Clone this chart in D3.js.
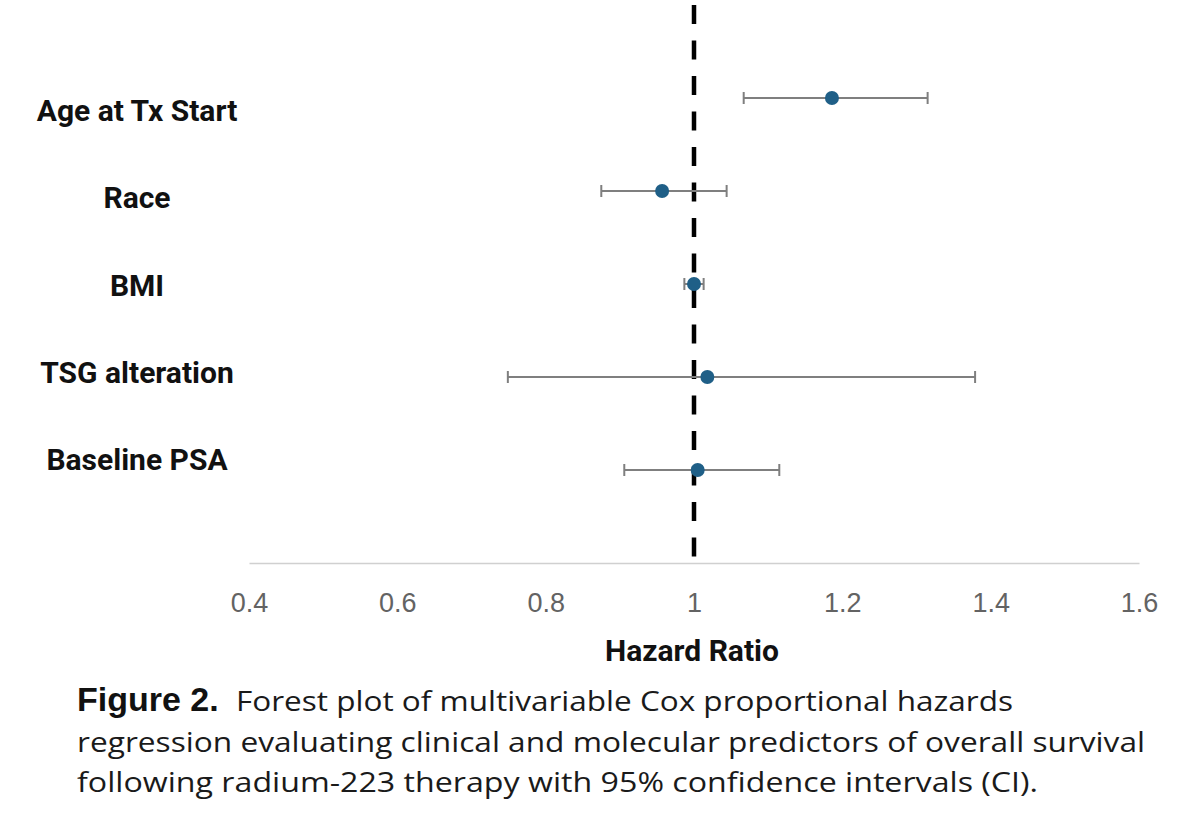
<!DOCTYPE html>
<html>
<head>
<meta charset="utf-8">
<script src="https://cdn.jsdelivr.net/npm/d3@7"></script>
<style>
  html, body { margin: 0; padding: 0; background: #ffffff; }
  svg { display: block; }
</style>
</head>
<body>
<svg id="chart" width="1200" height="828"></svg>
<script>
// ---- data ----
const categories = ["Age at Tx Start", "Race", "BMI", "TSG alteration", "Baseline PSA"];
const hazardRatio = [1.186, 0.957, 1.000, 1.018, 1.005];
const ciLower     = [1.067, 0.875, 0.987, 0.749, 0.906];
const ciUpper     = [1.315, 1.044, 1.013, 1.379, 1.115];
const xTicks = [0.4, 0.6, 0.8, 1.0, 1.2, 1.4, 1.6];
const xTickLabels = ["0.4", "0.6", "0.8", "1", "1.2", "1.4", "1.6"];
const referenceValue = 1.0;
const xAxisTitle = "Hazard Ratio";
const captionBold = "Figure 2.";
const captionLines = [
  "Forest plot of multivariable Cox proportional hazards",
  "regression evaluating clinical and molecular predictors of overall survival",
  "following radium-223 therapy with 95% confidence intervals (CI)."
];

// ---- layout ----
const svg = d3.select("#chart");
const n = categories.length;
const x = d3.scaleLinear().domain([0.4, 1.6]).range([249, 1139]);
const y = d3.scaleLinear().domain([0, n + 1]).range([563, 5]);
const yLabel = d3.scaleLinear().domain([0, n + 1]).range([557.5, 33.5]);

const rows = categories.map((c, i) => ({
  name: c, hr: hazardRatio[i], lo: ciLower[i], hi: ciUpper[i], pos: n - i
}));

// x axis
const xAxis = d3.axisBottom(x)
  .tickValues(xTicks)
  .tickFormat((d, i) => xTickLabels[i])
  .tickSize(0)
  .tickSizeOuter(0);

const gx = svg.append("g")
  .attr("transform", `translate(0,${y(0)})`)
  .call(xAxis);
gx.select(".domain").attr("stroke", "#d0d0d0").attr("stroke-width", 1.5);
gx.selectAll(".tick text")
  .attr("y", 30)
  .attr("dy", "0.71em")
  .attr("fill", "#636363")
  .style("font-family", "'Liberation Sans', Arial, sans-serif")
  .style("font-size", "27px");

// reference dashed line
svg.append("line")
  .attr("x1", x(referenceValue)).attr("x2", x(referenceValue))
  .attr("y1", y(n + 1)).attr("y2", y(0))
  .attr("stroke", "#000")
  .attr("stroke-width", 4.5)
  .attr("stroke-dasharray", "19,16.5");

// whiskers
const g = svg.append("g");
g.selectAll("line.ci")
  .data(rows).join("line")
  .attr("class", "ci")
  .attr("x1", d => x(d.lo)).attr("x2", d => x(d.hi))
  .attr("y1", d => y(d.pos)).attr("y2", d => y(d.pos))
  .attr("stroke", "#7f7f7f").attr("stroke-width", 2);

["lo", "hi"].forEach(k => {
  g.selectAll("line.cap-" + k)
    .data(rows).join("line")
    .attr("class", "cap-" + k)
    .attr("x1", d => x(d[k])).attr("x2", d => x(d[k]))
    .attr("y1", d => y(d.pos) - 6).attr("y2", d => y(d.pos) + 6)
    .attr("stroke", "#7f7f7f").attr("stroke-width", 2);
});

// points
g.selectAll("circle.pt")
  .data(rows).join("circle")
  .attr("class", "pt")
  .attr("cx", d => x(d.hr))
  .attr("cy", d => y(d.pos))
  .attr("r", 7)
  .attr("fill", "#1f5f87");

// category labels
svg.append("g").selectAll("text")
  .data(rows).join("text")
  .attr("x", 137)
  .attr("y", d => yLabel(d.pos))
  .attr("text-anchor", "middle")
  .attr("fill", "#111")
  .style("font-family", "Roboto, 'Liberation Sans', sans-serif")
  .style("font-weight", "700")
  .style("font-size", "30px")
  .text(d => d.name);

// x axis title
svg.append("text")
  .attr("x", 692)
  .attr("y", 661)
  .attr("text-anchor", "middle")
  .attr("fill", "#111")
  .style("font-family", "Roboto, 'Liberation Sans', sans-serif")
  .style("font-weight", "700")
  .style("font-size", "30px")
  .text(xAxisTitle);

// caption
svg.append("text")
  .attr("x", 77).attr("y", 711)
  .attr("fill", "#111")
  .style("font-family", "'Liberation Sans', Arial, sans-serif")
  .style("font-weight", "700")
  .style("font-size", "34px")
  .text(captionBold);

const capSpecs = [
  { x: 236, y: 711, w: 777 },
  { x: 77, y: 752, w: 1068 },
  { x: 77, y: 792, w: 961 }
];
captionLines.forEach((t, i) => {
  svg.append("text")
    .attr("x", capSpecs[i].x).attr("y", capSpecs[i].y)
    .attr("fill", "#1a1a1a")
    .style("font-family", "'Open Sans', 'Noto Sans', sans-serif")
    .style("font-size", "28px")
    .attr("textLength", capSpecs[i].w)
    .attr("lengthAdjust", "spacingAndGlyphs")
    .text(t);
});
</script>
</body>
</html>
